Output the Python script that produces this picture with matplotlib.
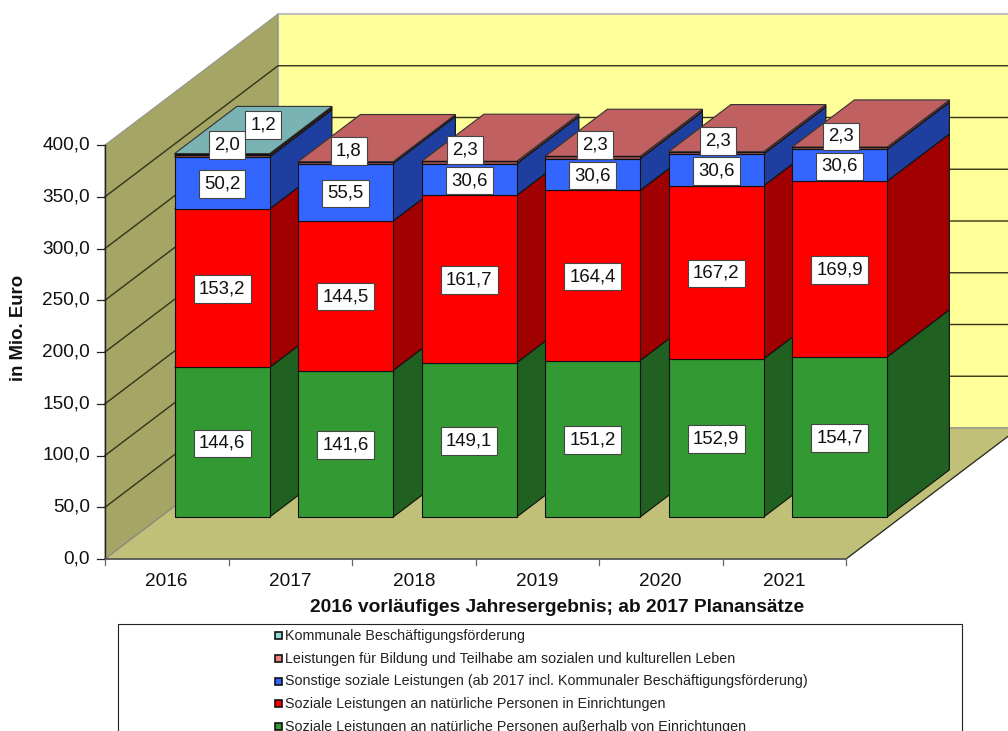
import matplotlib
matplotlib.use('Agg')
import numpy as np
import matplotlib.pyplot as plt
from matplotlib.patches import Polygon, Rectangle

plt.rcParams['font.family'] = ['Liberation Sans', 'DejaVu Sans']

years = ['2016', '2017', '2018', '2019', '2020', '2021']
y_ticks = [0, 50, 100, 150, 200, 250, 300, 350, 400]

ausserhalb = [144.6, 141.6, 149.1, 151.2, 152.9, 154.7]
einrichtungen = [153.2, 144.5, 161.7, 164.4, 167.2, 169.9]
sonstige = [50.2, 55.5, 30.6, 30.6, 30.6, 30.6]
bildung = [2.0, 1.8, 2.3, 2.3, 2.3, 2.3]
beschaeftigung = [1.2, 0, 0, 0, 0, 0]

legend_labels = [
    'Kommunale Beschäftigungsförderung',
    'Leistungen für Bildung und Teilhabe am sozialen und kulturellen Leben',
    'Sonstige soziale Leistungen (ab 2017 incl. Kommunaler Beschäftigungsförderung)',
    'Soziale Leistungen an natürliche Personen in Einrichtungen',
    'Soziale Leistungen an natürliche Personen außerhalb von Einrichtungen',
]

# bottom to top: front, side, top colour
series = [
    (ausserhalb, '#339933', '#206020', '#2b802b'),
    (einrichtungen, '#ff0000', '#a00000', '#c00000'),
    (sonstige, '#3366ff', '#1f3fa0', '#2850c0'),
    (bildung, '#8c4a4a', '#7a3c3c', '#c06060'),
    (beschaeftigung, '#5a9090', '#4a7a7a', '#7ab3b3'),
]
legend_colors = ['#8fd9d9', '#f08080', '#3366ff', '#ff0000', '#339933']

# projection of the 3d box on the picture, in pixels
X0, Y0 = 105, 559
CAT_W = 741 / 6
PX_PER_UNIT = 414 / 400
DEPTH_X, DEPTH_Y = 173, -131
BAR_W = 95
D_FRONT, D_BACK = 0.32, 0.68


def proj(x, value, depth=0.0):
    return (X0 + x * CAT_W + depth * DEPTH_X,
            Y0 - value * PX_PER_UNIT + depth * DEPTH_Y)


fig = plt.figure(figsize=(10.08, 7.31), dpi=100)
ax = fig.add_axes([0, 0, 1, 1])
ax.set_xlim(0, 1008)
ax.set_ylim(731, 0)
ax.axis('off')

n = len(years)
ymax = y_ticks[-1]

# walls and floor
wall = [proj(0, 0, 1), proj(n, 0, 1), proj(n, ymax, 1), proj(0, ymax, 1)]
ax.add_patch(Polygon(wall, fc='#ffff99', ec='#c0c0c0', lw=1.5, zorder=1))
side = [proj(0, 0), proj(0, 0, 1), proj(0, ymax, 1), proj(0, ymax)]
ax.add_patch(Polygon(side, fc='#a5a566', ec='#909090', lw=0.7, zorder=1))
floor = [proj(0, 0), proj(n, 0), proj(n, 0, 1), proj(0, 0, 1)]
ax.add_patch(Polygon(floor, fc='#c0c078', ec='#808080', lw=0.7, zorder=2))
a, b = proj(n, 0), proj(n, 0, 1)
ax.plot([a[0], b[0]], [a[1], b[1]], color='#303020', lw=0.9, zorder=2)

# gridlines on both walls
for t in y_ticks[1:-1]:
    p0, p1, p2 = proj(0, t), proj(0, t, 1), proj(n, t, 1)
    ax.plot([p0[0], p1[0], p2[0]], [p0[1], p1[1], p2[1]], color='#33331a', lw=1.0, zorder=2)

# axes
a, b = proj(0, 0), proj(0, ymax)
ax.plot([a[0], b[0]], [a[1], b[1]], color='#222222', lw=1.0, zorder=3)
a, b = proj(0, 0), proj(n, 0)
ax.plot([a[0], b[0]], [a[1], b[1]], color='#555555', lw=1.2, zorder=3)
for t in y_ticks:
    x, y = proj(0, t)
    ax.plot([x - 8, x], [y, y], color='#222222', lw=0.9, zorder=3)
    ax.text(x - 15, y, f'{t:.1f}'.replace('.', ','), ha='right', va='center',
            fontsize=13.7, color='#111111', zorder=3)
for i in range(n + 1):
    x, y = proj(i, 0)
    ax.plot([x, x], [y, y + 6], color='#666666', lw=0.9, zorder=3)
for i, yr in enumerate(years):
    x, y = proj(i + 0.5, 0)
    ax.text(x, y + 22, yr, ha='center', va='center', fontsize=13.7, color='#111111', zorder=3)

ax.text(19, 328, 'in Mio. Euro', rotation=90, ha='center', va='center',
        fontsize=13.4, fontweight='bold', color='#111111')
ax.text(557, 607, '2016 vorläufiges Jahresergebnis; ab 2017 Planansätze', ha='center',
        va='center', fontsize=13.75, fontweight='bold', color='#111111')

# bars, left to right so that each bar hides the side of the one before
half = BAR_W / 2 / CAT_W
z = 10
for i in range(n):
    base = 0.0
    c = i + 0.5
    for values, front, dark, top in series:
        v = values[i]
        if v == 0:
            continue
        lo, hi = base, base + v
        l = c - half
        r = c + half
        ax.add_patch(Polygon([proj(r, lo, D_FRONT), proj(r, lo, D_BACK), proj(r, hi, D_BACK),
                              proj(r, hi, D_FRONT)], fc=dark, ec='#111111', lw=0.8, zorder=z))
        ax.add_patch(Polygon([proj(l, hi, D_FRONT), proj(r, hi, D_FRONT), proj(r, hi, D_BACK),
                              proj(l, hi, D_BACK)], fc=top, ec='#333333', lw=0.8, zorder=z))
        ax.add_patch(Polygon([proj(l, lo, D_FRONT), proj(r, lo, D_FRONT), proj(r, hi, D_FRONT),
                              proj(l, hi, D_FRONT)], fc=front, ec='#111111', lw=0.8, zorder=z))
        z += 1
        base = hi

# labels, the thin top ones were moved by hand in the original
moved = {
    (3, 0): (5, -12), (4, 0): (41, -30), (3, 1): (3, -12.5), (3, 2): (-4, -13.5),
    (3, 3): (2.5, -13.5), (3, 4): (2, -13), (3, 5): (1.5, -13),
}
for i in range(n):
    base = 0.0
    for s, (values, *_) in enumerate(series):
        v = values[i]
        if v == 0:
            continue
        x, y = proj(i + 0.5, base + v / 2, D_FRONT)
        dx, dy = moved.get((s, i), (0, 0))
        ax.text(x + dx, y + dy + 1, f'{v:.1f}'.replace('.', ','), ha='center', va='center',
                fontsize=13.4, color='#111111', zorder=100 + s,
                bbox=dict(boxstyle='square,pad=0.28', fc='white', ec='#444444', lw=0.8))
        base += v

# legend box runs past the bottom of the picture
ax.add_patch(Rectangle((118, 624), 844, 140, fc='white', ec='#222222', lw=0.8, zorder=5))
legend_y = [635.5, 658, 681, 703.5, 726]
for lab, col, y in zip(legend_labels, legend_colors, legend_y):
    ax.add_patch(Rectangle((274.5, y - 3.5), 7, 7, fc=col, ec='#111111', lw=1.2, zorder=6))
    ax.text(285, y + 4.5, lab, ha='left', va='baseline', fontsize=10.3, color='#222222', zorder=6)

fig.savefig('out.png', dpi=100)
